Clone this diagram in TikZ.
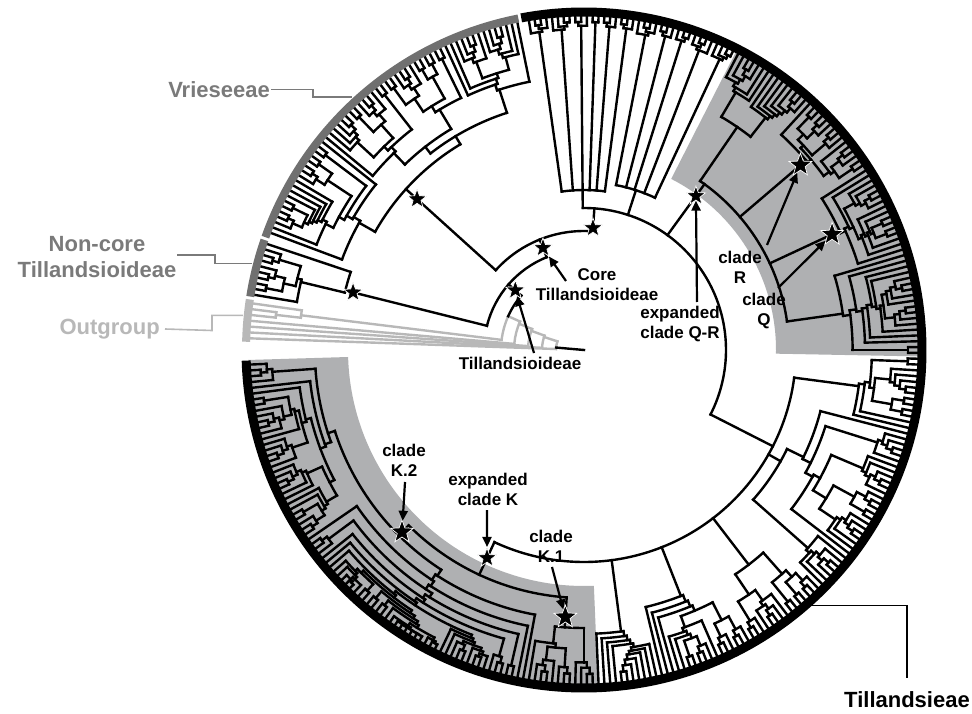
\documentclass[tikz,border=0pt]{standalone}
\usepackage{fontspec}
\setmainfont{Liberation Sans}
\usetikzlibrary{shapes.geometric,arrows.meta}
\definecolor{ringgray}{RGB}{112,112,112}
\definecolor{outgray}{RGB}{184,184,184}
\definecolor{shadegray}{RGB}{175,176,178}
\definecolor{labgray}{RGB}{122,122,122}
\newcommand\clRt{334}
\newcommand\clh{10}
\newcommand\cle{0.7}
\newcommand\clseed{0}
\newcommand\cllad{50}
\newcommand\clfr{0.1}
\tikzset{
  br/.style={line width=2.4pt,line cap=rect,draw=black},
  ogb/.style={line width=2.4pt,line cap=rect,draw=outgray},
  starmark/.style={star,star points=5,star point ratio=2.4,fill=black,draw=white,line width=0.7pt,minimum size=24pt,inner sep=0pt},
  smallstar/.style={starmark,minimum size=20pt},
  arr/.style={line width=2.2pt,-{Triangle[length=10pt,width=9pt]}},
  lead/.style={line width=1.6pt},
  grouplab/.style={font=\fontsize{22}{26}\selectfont\bfseries,inner sep=1pt,align=center},
  cladelab/.style={font=\fontsize{17}{20}\selectfont\bfseries,inner sep=1pt,align=center},
}
% clade with stem from parent radius #3
\newcommand\cl[3]{%
  \begingroup
  \pgfmathsetmacro\cln{(#2)-(#1)+1}%
  \pgfmathsetmacro\clm{((#1)+(#2))/2}%
  \ifdim\cln pt<1.5pt
    \draw[br] (\clm:#3) -- (\clm:\clRt);%
  \else
    \pgfmathsetmacro\clr{max(\clRt-\clh*(\cln-1)^\cle,(#3)+max(3,(\clRt-(#3))*\clfr))}%
    \pgfmathsetmacro\clr{min(\clr,\clRt-5)}%
    \draw[br] (\clm:#3) -- (\clm:\clr);%
    \edef\clnext{\noexpand\clnode{#1}{#2}{\clr}}\clnext
  \fi
  \endgroup}
% node of clade at radius #3
\newcommand\clnode[3]{%
  \begingroup
  \pgfmathsetmacro\cln{(#2)-(#1)+1}%
  \pgfmathtruncatemacro\clu{mod(floor(abs(sin((#1)*7.3+(#2)*13.9+\clseed))*10007),100)}%
  \pgfmathtruncatemacro\clv{1+mod(floor(abs(cos((#1)*11.7+(#2)*5.3+\clseed))*10007),\cln-1)}%
  \pgfmathtruncatemacro\clk{\clu<\cllad ? (\clu<\cllad/2 ? 1 : \cln-1) : \clv}%
  \pgfmathsetmacro\cla{(#1)+\clk-1}%
  \pgfmathsetmacro\clb{\cla+1}%
  \pgfmathsetmacro\clma{((#1)+\cla)/2}%
  \pgfmathsetmacro\clmb{(\clb+(#2))/2}%
  \draw[br] (\clma:#3) arc[start angle=\clma,end angle=\clmb,radius=#3];%
  \edef\clnext{\noexpand\cl{#1}{\cla}{#3}\noexpand\cl{\clb}{#2}{#3}}\clnext
  \endgroup}
\begin{document}
\begin{tikzpicture}[x=1pt,y=1pt]
\useasboundingbox (0,0) rectangle (972,713);
\begin{scope}[shift={(584,363)}]
  % shaded clades
  \fill[shadegray] (-1.1:192) arc[start angle=-1.1,end angle=63,radius=192] -- (63:336) arc[start angle=63,end angle=-1.1,radius=336] -- cycle;
  \fill[shadegray] (-178.3:236) arc[start angle=-178.3,end angle=-87.6,radius=236] -- (-87.6:336) arc[start angle=-87.6,end angle=-178.3,radius=336] -- cycle;
  % outgroup
  \draw[ogb] (178:28) arc[start angle=178,end angle=162,radius=28];
  \draw[ogb] (178:28) -- (178:\clRt);
  \draw[ogb] (162:28) -- (162:42);
  \draw[ogb] (177:42) arc[start angle=177,end angle=160,radius=42];
  \draw[ogb] (177:42) -- (177:\clRt);
  \draw[ogb] (160:42) -- (160:56);
  \draw[ogb] (176:56) arc[start angle=176,end angle=158,radius=56];
  \draw[ogb] (176:56) -- (176:\clRt);
  \draw[ogb] (158:56) -- (158:70);
  \draw[ogb] (175:70) arc[start angle=175,end angle=156,radius=70];
  \draw[ogb] (175:70) -- (175:\clRt);
  \draw[ogb] (156:70) -- (156:83);
  \draw[ogb] (173:83) arc[start angle=173,end angle=156,radius=83];
  \draw[ogb] (173:83) -- (173:285);
  \draw[ogb] (172:285) arc[start angle=172,end angle=173.5,radius=285];
  \draw[ogb] (172:285) -- (172:\clRt);
  \draw[ogb] (173.5:285) -- (173.5:310);
  \draw[ogb] (173:310) arc[start angle=173,end angle=174,radius=310];
  \draw[ogb] (173:310) -- (173:\clRt);
  \draw[ogb] (174:310) -- (174:\clRt);
  \draw[br] (0,0) -- (175:28);
  \draw[br] (156:83) arc[start angle=156,end angle=139,radius=83];
  % Tillandsioideae
  \draw[br] (139:83) -- (139:100);
  \draw[br] (166:100) arc[start angle=166,end angle=111.9,radius=100];
  % Non-core
  \draw[br] (166:100) -- (166:246);
  \clnode{161.5}{170.5}{246}
  % Core
  \draw[br] (111.9:100) -- (111.9:119);
  \draw[br] (137.9:119) arc[start angle=137.9,end angle=85.8,radius=119];
  % Vrieseeae
  \draw[br] (137.9:119) -- (137.9:240);
  \draw[br] (121:240) arc[start angle=121,end angle=150.5,radius=240];
  \cl{101.5}{140.5}{240}
  \cl{141.5}{159.5}{240}
  % Tillandsieae
  \draw[br] (85.8:119) -- (85.8:142);
  \draw[br] (90.5:142) arc[start angle=90.5,end angle=-27,radius=142];
  \renewcommand\clh{6}
  \draw[br] (90.5:142) -- (90.5:160);
  \draw[br] (82.5:160) arc[start angle=82.5,end angle=98,radius=160];
  \cl{81.5}{83.5}{160}\cl{84.5}{86.5}{160}\cl{87.5}{88.5}{160}
  \cl{89.5}{91.5}{160}\cl{92.5}{95.5}{160}\cl{96.5}{99.5}{160}
  \draw[br] (72:142) -- (72:168);
  \draw[br] (65:168) arc[start angle=65,end angle=79,radius=168];
  \cl{63.5}{66.5}{168}\cl{67.5}{70.5}{168}\cl{71.5}{73.5}{168}
  \cl{74.5}{76.5}{168}\cl{77.5}{80.5}{168}
  \renewcommand\clh{10}
  % Q-R
  \draw[br] (54:142) -- (54:205);
  \draw[br] (8:205) arc[start angle=8,end angle=55.5,radius=205];
  \cl{48.5}{62.5}{205}
  \draw[br] (40.5:205) -- (40.5:292);
  \clnode{33.5}{47.5}{292}
  \draw[br] (25:205) -- (25:282);
  \clnode{17.5}{32.5}{282}
  \cl{-0.5}{16.5}{205}
  % lower part
  \draw[br] (-27:142) -- (-27:212);
  \draw[br] (-115:212) arc[start angle=-115,end angle=-7.5,radius=212];
  \cl{-13.5}{-1.5}{212}
  \cl{-44.5}{-14.5}{212}
  \cl{-59.5}{-45.5}{212}
  \cl{-76.5}{-60.5}{212}
  \cl{-87.5}{-77.5}{212}
  % K
  \draw[br] (-115:212) -- (-115:248);
  \draw[br] (-135:248) arc[start angle=-135,end angle=-94,radius=248];
  \draw[br] (-94:248) -- (-94:278);
  \clnode{-99.5}{-88.5}{278}
  \draw[br] (-135:248) -- (-135:262);
  \draw[br] (-162:262) arc[start angle=-162,end angle=-123,radius=262];
  \cl{-177.5}{-146.5}{262}
  \cl{-145.5}{-100.5}{262}
  % rings
  \draw[line width=9pt,black] (-178.2:338) arc[start angle=-178.2,end angle=100.7,radius=338];
  \draw[line width=8pt,ringgray] (101.2:338) arc[start angle=101.2,end angle=160.5,radius=338];
  \draw[line width=8pt,ringgray] (161:338) arc[start angle=161,end angle=170.9,radius=338];
  \draw[line width=8pt,outgray] (171.4:338) arc[start angle=171.4,end angle=178.6,radius=338];
  % stars
  \node[smallstar] (sTd) at (139:91) {};
  \node[smallstar] (sCore) at (111.9:110) {};
  \node[smallstar] (sTs) at (85.8:122.3) {};
  \node[smallstar] (sV) at (137.9:225) {};
  \node[smallstar] (sN) at (166:238) {};
  \node[smallstar] (sQR) at (54:190.4) {};
  \node[starmark] (sR) at (40.5:284.6) {};
  \node[starmark] (sQ) at (25:273.7) {};
  \node[smallstar] (sK) at (-115:229.5) {};
  \node[starmark] (sK2) at (-135:257.4) {};
  \node[starmark] (sK1) at (-94:267.7) {};
  % ring anchor points
  \coordinate (rV) at (132.5:343);
  \coordinate (rN) at (165.4:343);
  \coordinate (rO) at (174.2:343);
  \coordinate (rT) at (-48.5:341);
\end{scope}
% clade labels and arrows
\node[cladelab] (lCore) at (597,428) {Core\\Tillandsioideae};
\node[cladelab] (lTd) at (520,350) {Tillandsioideae};
\node[cladelab] (lQR) at (680,389) {expanded\\clade Q-R};
\node[cladelab] (lR) at (740,446) {clade\\R};
\node[cladelab] (lQ) at (764,402) {clade\\Q};
\node[cladelab] (lK2) at (404,253) {clade\\K.2};
\node[cladelab] (lK) at (488,224) {expanded\\clade K};
\node[cladelab] (lK1) at (551,167) {clade\\K.1};
\coordinate (aCore) at (566,432);
\coordinate (aTd) at (534,360);
\coordinate (aQR) at (697,411);
\coordinate (aR) at (767,468);
\coordinate (aQ) at (778,425);
\coordinate (aK2) at (405,231);
\coordinate (aK) at (487,203);
\coordinate (aK1) at (552,146);
\draw[arr] (aCore) -- (sCore);
\draw[arr] (aTd) -- (sTd);
\draw[arr] (aQR) -- (sQR);
\draw[arr] (aR) -- (sR);
\draw[arr] (aQ) -- (sQ);
\draw[arr] (aK2) -- (sK2);
\draw[arr] (aK) -- (sK);
\draw[arr] (aK1) -- (sK1);
% group labels
\node[grouplab,text=labgray,anchor=east] (lV) at (271,623.5) {Vrieseeae};
\draw[lead,labgray] (lV.east) -- (313,623.5) |- (rV);
\node[grouplab,text=labgray] (lN) at (97,456) {Non-core\\Tillandsioideae};
\draw[lead,labgray] (177,458) -- (215,458) |- (rN);
\node[grouplab,text=outgray,anchor=east] (lO) at (161,384) {Outgroup};
\draw[lead,outgray] (lO.east) ++(4,0) -- (212,382.5) |- (rO);
\node[grouplab] (lT) at (907,13) {Tillandsieae};
\draw[lead] (rT) -| ([yshift=13pt]lT.north);
\end{tikzpicture}
\end{document}
